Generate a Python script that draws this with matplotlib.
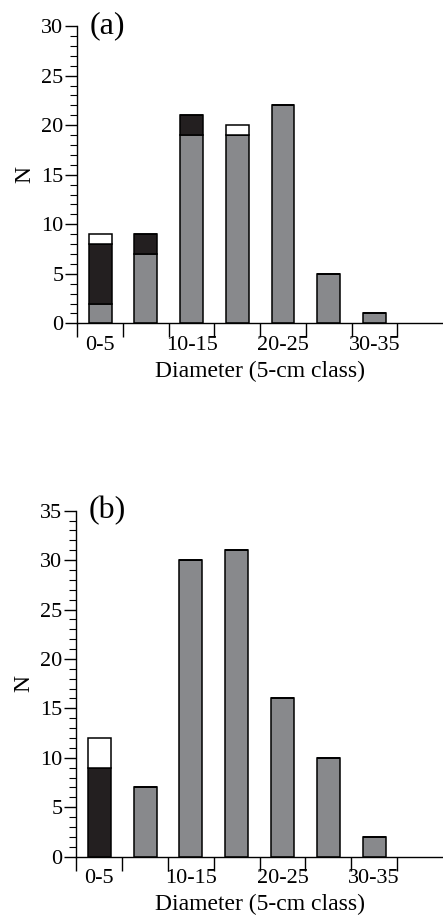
import numpy as np
import matplotlib
matplotlib.use('Agg')
import matplotlib.pyplot as plt
from matplotlib.ticker import MultipleLocator

plt.rcParams['font.family'] = ['Liberation Serif', 'DejaVu Serif']

classes = ['0-5', '5-10', '10-15', '15-20', '20-25', '25-30', '30-35']
shown_labels = ['0-5', '10-15', '20-25', '30-35']

# panel (a)
a_gray = [2, 7, 19, 19, 22, 5, 1]
a_black = [6, 2, 2, 0, 0, 0, 0]
a_white = [1, 0, 0, 1, 0, 0, 0]

# panel (b)
b_gray = [0, 7, 30, 31, 16, 10, 2]
b_black = [9, 0, 0, 0, 0, 0, 0]
b_white = [3, 0, 0, 0, 0, 0, 0]

GRAY = '#88898c'
BLACK = '#231f20'

fig = plt.figure(figsize=(4.43, 9.17), dpi=100)
ax1 = fig.add_axes([0.1745, 0.6474, 0.8255, 0.3242])
ax2 = fig.add_axes([0.1722, 0.0658, 0.8278, 0.3773])


def draw(ax, gray, black, white, ymax, tag):
    x = np.arange(len(classes)) + 0.5
    gray = np.array(gray)
    black = np.array(black)
    white = np.array(white)
    kw = dict(width=0.5, edgecolor='black', linewidth=1.1)
    ax.bar(x, gray, color=GRAY, **kw)
    ax.bar(x, black, bottom=gray, color=BLACK, **kw)
    ax.bar(x, white, bottom=gray + black, color='white', **kw)
    ax.set_xlim(0, 8)
    ax.set_ylim(0, ymax)
    ax.spines['top'].set_visible(False)
    ax.spines['right'].set_visible(False)
    ax.spines['left'].set_linewidth(1.0)
    ax.spines['bottom'].set_linewidth(1.0)
    ax.set_xticks(np.arange(0, 8))
    ax.set_xticklabels([])
    ax.set_xticks([0.5, 2.5, 4.5, 6.5], minor=True)
    ax.set_xticklabels(shown_labels, minor=True)
    ax.tick_params(axis='x', which='major', direction='out', length=10, width=1)
    ax.tick_params(axis='x', which='minor', length=0, pad=9, labelsize=16)
    ax.yaxis.set_major_locator(MultipleLocator(5))
    ax.yaxis.set_minor_locator(MultipleLocator(1))
    ax.tick_params(axis='y', which='major', direction='out', length=9, width=1,
                   labelsize=16, pad=1)
    ax.tick_params(axis='y', which='minor', direction='out', length=5, width=0.8)
    ax.set_xlabel('Diameter (5-cm class)', fontsize=17, labelpad=4)
    ax.set_ylabel('N', fontsize=17, labelpad=4)
    ax.text(0.035, 1.0, tag, transform=ax.transAxes, fontsize=23,
            ha='left', va='center')


draw(ax1, a_gray, a_black, a_white, 30, '(a)')
draw(ax2, b_gray, b_black, b_white, 35, '(b)')

fig.savefig('out.png', dpi=100)
